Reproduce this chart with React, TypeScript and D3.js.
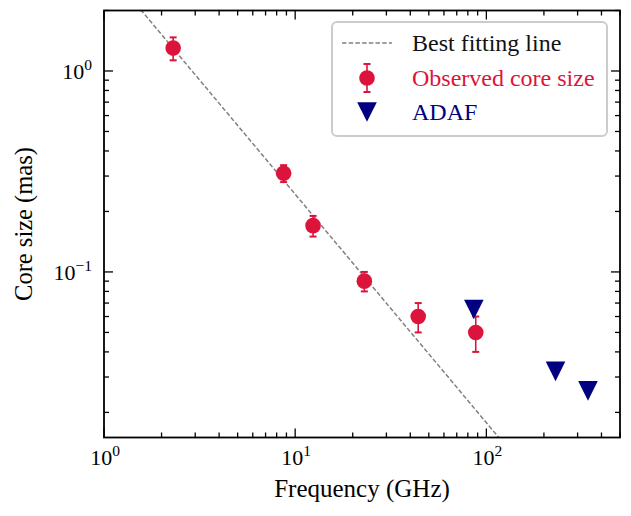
import { useEffect, useRef } from 'react';
import * as d3 from 'd3';

// observed core sizes
const obsFreq = [2.3, 8.7, 12.4, 23, 44, 88];
const obsSize = [1.3, 0.31, 0.17, 0.09, 0.06, 0.05];
const obsErrLow = [1.13, 0.28, 0.15, 0.08, 0.05, 0.04];
const obsErrHigh = [1.47, 0.34, 0.19, 0.1, 0.07, 0.06];

// ADAF model predictions
const adafFreq = [86, 230, 340];
const adafSize = [0.065, 0.032, 0.0256];

// best fitting power law: size = amp * freq^index
const fitAmp = 3.34;
const fitIndex = -1.137;
const fitRange = [1.2, 150];

const xDomain = [1, 500];
const yDomain = [0.015, 2.0];
const xMajors = [1, 10, 100];
const yMajors = [0.1, 1];

const legendLabels = ['Best fitting line', 'Observed core size', 'ADAF'];

const RED = '#dc143c';
const NAVY = '#000080';
const FONT = '"Liberation Serif", "DejaVu Serif", serif';

export default function App() {
    const ref = useRef<SVGSVGElement>(null);

    useEffect(() => {
        if (!ref.current) return;
        const svg = d3.select(ref.current);
        svg.selectAll('*').remove();

        const margin = { top: 10.5, right: 11, bottom: 78.5, left: 104 };
        const width = 631;
        const height = 516;
        const innerWidth = width - margin.left - margin.right;
        const innerHeight = height - margin.top - margin.bottom;

        const x = d3.scaleLog().domain(xDomain).range([0, innerWidth]);
        const y = d3.scaleLog().domain(yDomain).range([innerHeight, 0]);

        const g = svg.append('g')
            .attr('transform', `translate(${margin.left}, ${margin.top})`);

        g.append('clipPath').attr('id', 'plot-clip')
            .append('rect').attr('width', innerWidth).attr('height', innerHeight);

        // best fitting line
        const fitX = d3.range(0, 41).map(i => fitRange[0] * Math.pow(fitRange[1] / fitRange[0], i / 40));
        const line = d3.line<number>()
            .x(d => x(d))
            .y(d => y(fitAmp * Math.pow(d, fitIndex)));
        g.append('path')
            .datum(fitX)
            .attr('clip-path', 'url(#plot-clip)')
            .attr('d', line)
            .attr('fill', 'none')
            .attr('stroke', '#808080')
            .attr('stroke-width', 1.5)
            .attr('stroke-dasharray', '4.5,2.2');

        // observed points with error bars
        const obs = obsFreq.map((f, i) => ({ f, s: obsSize[i], lo: obsErrLow[i], hi: obsErrHigh[i] }));
        const eb = g.append('g').attr('stroke', RED);
        eb.selectAll('line.bar').data(obs).enter().append('line')
            .attr('x1', d => x(d.f)).attr('x2', d => x(d.f))
            .attr('y1', d => y(d.lo)).attr('y2', d => y(d.hi))
            .attr('stroke-width', 1.6);
        ['lo', 'hi'].forEach(k => {
            eb.selectAll(`line.cap-${k}`).data(obs).enter().append('line')
                .attr('x1', d => x(d.f) - 3.5).attr('x2', d => x(d.f) + 3.5)
                .attr('y1', d => y((d as any)[k])).attr('y2', d => y((d as any)[k]))
                .attr('stroke-width', 2);
        });
        g.selectAll('circle.obs').data(obs).enter().append('circle')
            .attr('cx', d => x(d.f)).attr('cy', d => y(d.s))
            .attr('r', 7.8).attr('fill', RED);

        // ADAF triangles
        const tri = (cx: number, cy: number, s: number) =>
            `M${cx - s},${cy - s}L${cx + s},${cy - s}L${cx},${cy + s}Z`;
        g.selectAll('path.adaf').data(adafFreq).enter().append('path')
            .attr('d', (d, i) => tri(x(d), y(adafSize[i]), 9.8))
            .attr('fill', NAVY);

        // frame
        g.append('rect')
            .attr('width', innerWidth).attr('height', innerHeight)
            .attr('fill', 'none').attr('stroke', 'black').attr('stroke-width', 1.8);

        // ticks (inward, all four sides)
        const ticksG = g.append('g').attr('stroke', 'black').attr('stroke-width', 1.3);
        const isMajor = (v: number) => Math.abs(Math.log10(v) - Math.round(Math.log10(v))) < 1e-6;
        x.ticks().forEach(v => {
            const len = isMajor(v) ? 9 : 5;
            const px = x(v);
            ticksG.append('line').attr('x1', px).attr('x2', px).attr('y1', innerHeight).attr('y2', innerHeight - len);
            ticksG.append('line').attr('x1', px).attr('x2', px).attr('y1', 0).attr('y2', len);
        });
        y.ticks().forEach(v => {
            const len = isMajor(v) ? 9 : 5;
            const py = y(v);
            ticksG.append('line').attr('x1', 0).attr('x2', len).attr('y1', py).attr('y2', py);
            ticksG.append('line').attr('x1', innerWidth).attr('x2', innerWidth - len).attr('y1', py).attr('y2', py);
        });

        // tick labels as 10^n
        const expLabel = (sel: d3.Selection<SVGTextElement, unknown, null, undefined>, v: number) => {
            const e = Math.round(Math.log10(v));
            sel.append('tspan').text('10');
            sel.append('tspan').attr('font-size', 15.5).attr('dy', -9)
                .text(e < 0 ? `\u2212${-e}` : `${e}`);
        };
        xMajors.forEach(v => {
            const t = g.append('text')
                .attr('x', x(v) + 1).attr('y', innerHeight + 27.5)
                .attr('text-anchor', 'middle')
                .attr('font-family', FONT).attr('font-size', 22);
            expLabel(t as any, v);
        });
        yMajors.forEach(v => {
            const t = g.append('text')
                .attr('x', -12).attr('y', y(v) + 8.5)
                .attr('text-anchor', 'end')
                .attr('font-family', FONT).attr('font-size', 22);
            expLabel(t as any, v);
        });

        // axis titles
        g.append('text')
            .attr('x', innerWidth / 2).attr('y', innerHeight + 59)
            .attr('text-anchor', 'middle')
            .attr('font-family', FONT).attr('font-size', 25)
            .text('Frequency (GHz)');
        g.append('text')
            .attr('transform', `translate(${-72}, ${innerHeight / 2}) rotate(-90)`)
            .attr('text-anchor', 'middle')
            .attr('font-family', FONT).attr('font-size', 24.5)
            .text('Core size (mas)');

        // legend
        const lg = svg.append('g').attr('transform', 'translate(332, 22)');
        lg.append('rect')
            .attr('width', 275).attr('height', 114).attr('rx', 5)
            .attr('fill', 'white').attr('stroke', '#cccccc').attr('stroke-width', 2);
        const rowY = [21, 56, 90];
        const colors = ['#111111', RED, NAVY];
        lg.append('line')
            .attr('x1', 10).attr('x2', 60).attr('y1', rowY[0]).attr('y2', rowY[0])
            .attr('stroke', '#808080').attr('stroke-width', 1.5).attr('stroke-dasharray', '4.5,2.2');
        lg.append('line')
            .attr('x1', 35).attr('x2', 35).attr('y1', rowY[1] - 14).attr('y2', rowY[1] + 14)
            .attr('stroke', RED).attr('stroke-width', 1.6);
        [-14, 14].forEach(o => lg.append('line')
            .attr('x1', 31.5).attr('x2', 38.5).attr('y1', rowY[1] + o).attr('y2', rowY[1] + o)
            .attr('stroke', RED).attr('stroke-width', 2));
        lg.append('circle').attr('cx', 35).attr('cy', rowY[1]).attr('r', 7.8).attr('fill', RED);
        lg.append('path').attr('d', tri(35, rowY[2], 9.8)).attr('fill', NAVY);
        legendLabels.forEach((l, i) => {
            lg.append('text')
                .attr('x', 80).attr('y', rowY[i] + 8)
                .attr('font-family', FONT).attr('font-size', 24)
                .attr('fill', colors[i])
                .text(l);
        });
    }, []);

    return (
        <svg ref={ref} width={631} height={516}
            style={{ position: 'absolute', left: 0, top: 0, background: 'white' }} />
    );
}
